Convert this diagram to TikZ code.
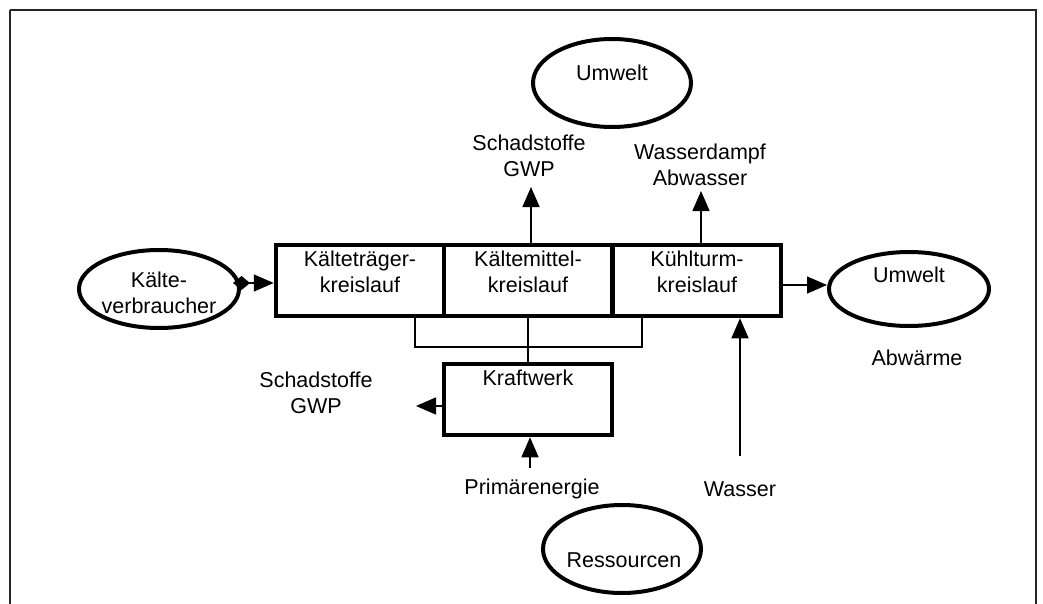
\documentclass[tikz,border=0pt]{standalone}
\usepackage{fontspec}
\setmainfont{Liberation Sans}
\usetikzlibrary{arrows.meta,shapes.geometric}
\begin{document}
\begin{tikzpicture}[x=1pt,y=-1pt,
  lbl/.style={inner sep=0pt,align=center,font=\fontsize{21.5}{25.5}\selectfont},
  blk/.style={draw,line width=4.5pt,inner sep=0pt,minimum width=168pt,minimum height=71pt},
  ell/.style={draw,ellipse,line width=4pt,inner sep=0pt},
  thin/.style={line width=1.4pt},
  arr/.style={thin,-{Triangle[length=20pt,width=17pt]}},
]
\useasboundingbox (0,0) rectangle (1043,604);
\draw[line width=2pt,black!85] (10,10) -- (1036,10) -- (1036,640) (10,10) -- (10,640);

% ellipses
\node[ell,minimum width=158pt,minimum height=88pt] (uwtop) at (612,83) {};
\node[ell,minimum width=160pt,minimum height=78pt] (kv) at (159,289) {};
\node[ell,minimum width=160pt,minimum height=74pt] (uwr) at (909,289) {};
\node[ell,minimum width=158pt,minimum height=88pt] (res) at (622,549) {};
\node[lbl] (tuwtop) at (612,73) {Umwelt};
\node[lbl] (tkv) at (159,293) {Kälte-\\verbraucher};
\node[lbl] (tuwr) at (909,275) {Umwelt};
\node[lbl] (tres) at (624,560) {Ressourcen};

% blocks
\node[blk] (b1) at (360,280.5) {};
\node[blk] (b2) at (528,280.5) {};
\node[blk] (b3) at (697,280.5) {};
\node[blk] (kw) at (528,399.5) {};
\node[lbl,anchor=north] (tb1) at (360,251) {Kälteträger-\\kreislauf};
\node[lbl,anchor=north] (tb2) at (528,251) {Kältemittel-\\kreislauf};
\node[lbl,anchor=north] (tb3) at (697,251) {Kühlturm-\\kreislauf};
\node[lbl,anchor=north] (tkw) at (528,370) {Kraftwerk};

% labels
\node[lbl] (s1) at (529,156) {Schadstoffe\\GWP};
\node[lbl] (wd) at (700,165) {Wasserdampf\\Abwasser};
\node[lbl] (s2) at (316,393) {Schadstoffe\\GWP};
\node[lbl] (abw) at (917,358) {Abwärme};
\node[lbl] (pe) at (532,489) {Primärenergie};
\node[lbl] (wa) at (740,489) {Wasser};

% free ends
\coordinate (c1) at (531,187);
\coordinate (c2) at (701,191);
\coordinate (c3) at (416,406);
\coordinate (c4) at (530,468);
\coordinate (c5) at (740,456);
\coordinate (bl) at (415,347);
\coordinate (br) at (642,347);

% connectors
\draw[arr] (b2.north -| c1) -- (c1);
\draw[arr] (b3.north -| c2) -- (c2);
\draw[thin,shorten <=-8pt,{Diamond[length=17pt,width=14pt]}-{Triangle[length=20pt,width=17pt]}] (kv.east |- 0,283) -- (b1.west |- 0,283);
\draw[arr] (b3.east |- 0,285) -- (uwr.west |- 0,285);
\draw[thin] (b1.south -| bl) -- (bl) -- (br) -- (b3.south -| br);
\draw[thin] (b2.south) -- (kw.north);
\draw[arr] (kw.west |- c3) -- (c3);
\draw[arr] (c4) -- (kw.south -| c4);
\draw[arr] (c5) -- (b3.south -| c5);
\end{tikzpicture}
\end{document}
